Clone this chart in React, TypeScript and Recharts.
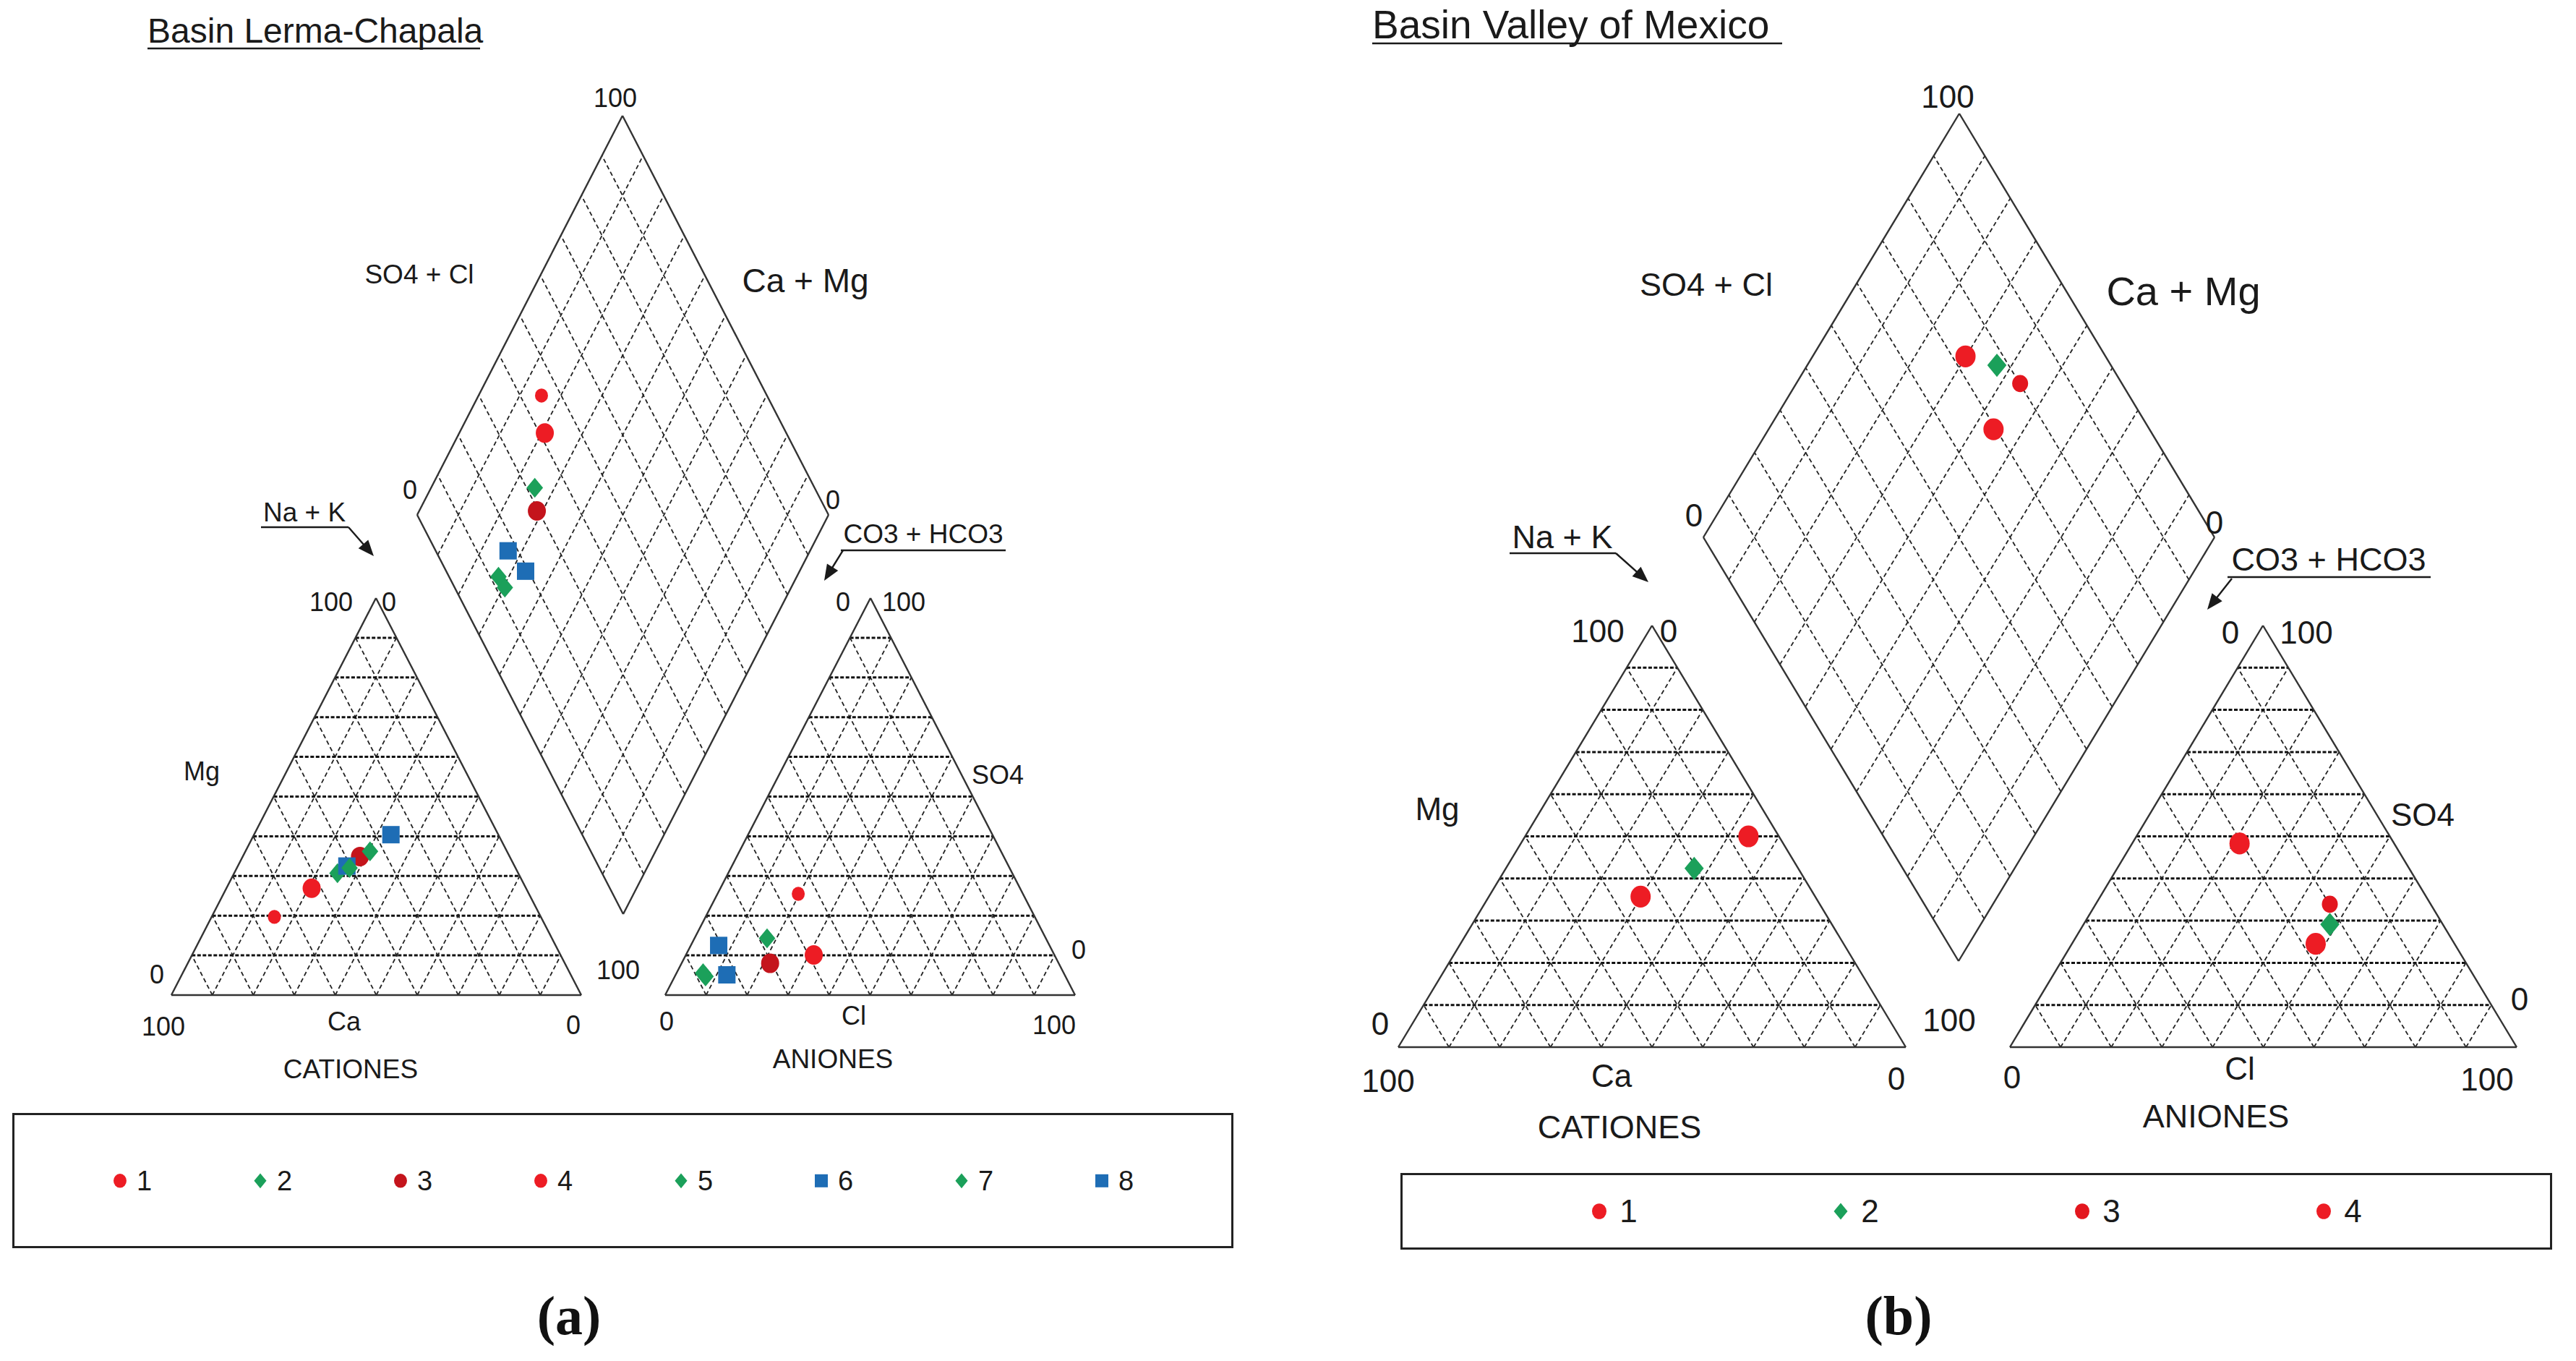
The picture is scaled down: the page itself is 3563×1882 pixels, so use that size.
import React from 'react';
import { ScatterChart, Scatter, XAxis, YAxis, ReferenceLine, ReferenceDot } from 'recharts';

type Pt = { x: number; y: number };

// (a) Basin Lerma-Chapala, % meq
const samplesA = ['1', '2', '3', '4', '5', '6', '7', '8'];
const mgA = [19.7, 30.7, 34.9, 26.9, 36.2, 32.5, 32.0, 40.4];
const nakA = [15.3, 25.2, 28.6, 20.8, 30.4, 26.6, 27.5, 33.4];
const so4A = [25.5, 14.3, 8.0, 10.1, 4.7, 5.1, 5.5, 12.5];
const clA = [19.7, 17.7, 21.6, 31.2, 7.5, 12.5, 6.5, 6.8];

// (b) Basin Valley of Mexico, % meq
const samplesB = ['1', '2', '3', '4'];
const mgB = [35.7, 42.4, 50.1, 50.0];
const nakB = [29.9, 37.1, 43.8, 44.0];
const so4B = [24.5, 29.1, 33.9, 48.3];
const clB = [48.1, 48.6, 46.2, 21.2];

const scaleTicks = ['0', '100'];

const FONT = '"Liberation Sans", Arial, sans-serif';
const INK = '#1a1a1a';
const RED = '#ED1C24';
const DARK_RED = '#C4141C';
const GREEN = '#1BA05A';
const BLUE = '#1E6DB5';

type Mark = { kind: 'circle' | 'diamond' | 'square'; color: string; r: number };

const marksA: Mark[] = [
  { kind: 'circle', color: RED, r: 9 },
  { kind: 'diamond', color: GREEN, r: 12 },
  { kind: 'circle', color: DARK_RED, r: 12.5 },
  { kind: 'circle', color: RED, r: 12.5 },
  { kind: 'diamond', color: GREEN, r: 12 },
  { kind: 'square', color: BLUE, r: 12 },
  { kind: 'diamond', color: GREEN, r: 12 },
  { kind: 'square', color: BLUE, r: 12 },
];
const marksB: Mark[] = [
  { kind: 'circle', color: RED, r: 14 },
  { kind: 'diamond', color: GREEN, r: 14 },
  { kind: 'circle', color: '#E3161E', r: 11 },
  { kind: 'circle', color: RED, r: 14 },
];

interface Tri { l: Pt; r: Pt; t: Pt }
interface Dia { l: Pt; r: Pt; b: Pt }

const mix = (tri: Tri, wl: number, wr: number, wt: number): Pt => ({
  x: wl * tri.l.x + wr * tri.r.x + wt * tri.t.x,
  y: wl * tri.l.y + wr * tri.r.y + wt * tri.t.y,
});
const diaPt = (d: Dia, u: number, v: number): Pt => ({
  x: d.b.x + u * (d.r.x - d.b.x) + v * (d.l.x - d.b.x),
  y: d.b.y + u * (d.r.y - d.b.y) + v * (d.l.y - d.b.y),
});

const THIN = { stroke: '#222', strokeWidth: 1.8, strokeDasharray: '6 4' };
const BOLD = { stroke: '#111', strokeWidth: 3, strokeDasharray: '5 2.5' };
const EDGE = { stroke: '#333', strokeWidth: 2.4 };

const seg = (key: string, a: Pt, b: Pt, st: any) => (
  <ReferenceLine key={key} segment={[a, b]} ifOverflow="visible" {...st} />
);

function triGrid(tri: Tri, id: string) {
  const out: React.ReactNode[] = [];
  for (let i = 1; i < 10; i++) {
    const f = i / 10;
    out.push(seg(`${id}h${i}`, mix(tri, 1 - f, 0, f), mix(tri, 0, 1 - f, f), BOLD));
    out.push(seg(`${id}a${i}`, mix(tri, f, 1 - f, 0), mix(tri, f, 0, 1 - f), THIN));
    out.push(seg(`${id}b${i}`, mix(tri, 1 - f, f, 0), mix(tri, 0, f, 1 - f), THIN));
  }
  out.push(seg(`${id}e1`, tri.l, tri.r, EDGE));
  out.push(seg(`${id}e2`, tri.r, tri.t, EDGE));
  out.push(seg(`${id}e3`, tri.t, tri.l, EDGE));
  return out;
}

function diaGrid(d: Dia, id: string) {
  const out: React.ReactNode[] = [];
  for (let i = 1; i < 10; i++) {
    const f = i / 10;
    out.push(seg(`${id}u${i}`, diaPt(d, f, 0), diaPt(d, f, 1), THIN));
    out.push(seg(`${id}v${i}`, diaPt(d, 0, f), diaPt(d, 1, f), THIN));
  }
  const t = diaPt(d, 1, 1);
  out.push(seg(`${id}e1`, d.b, d.l, EDGE));
  out.push(seg(`${id}e2`, d.l, t, EDGE));
  out.push(seg(`${id}e3`, t, d.r, EDGE));
  out.push(seg(`${id}e4`, d.r, d.b, EDGE));
  return out;
}

const drawMark = (m: Mark, cx: number, cy: number) => {
  const r = m.r;
  if (m.kind === 'circle') return <ellipse cx={cx} cy={cy} rx={r} ry={r * 1.08} fill={m.color} />;
  if (m.kind === 'diamond')
    return (
      <polygon
        points={`${cx},${cy - r * 1.15} ${cx + r * 0.95},${cy} ${cx},${cy + r * 1.15} ${cx - r * 0.95},${cy}`}
        fill={m.color}
      />
    );
  return <rect x={cx - r} y={cy - r} width={2 * r} height={2 * r} fill={m.color} />;
};

type Txt = [string, number, number, number];

const textDot = (key: string, x: number, y: number, s: string, size: number, anchor = 'middle', base = 'central') => (
  <ReferenceDot
    key={key}
    x={x}
    y={y}
    r={1}
    ifOverflow="visible"
    shape={(p: any) => (
      <text x={p.cx} y={p.cy} textAnchor={anchor} dominantBaseline={base} fontSize={size} fontFamily={FONT} fill={INK}>
        {s}
      </text>
    )}
  />
);

const arrow = (key: string, a: Pt, b: Pt) => {
  const ang = Math.atan2(b.y - a.y, b.x - a.x);
  const L = 22;
  const W = 9;
  return [
    seg(key + 's', a, { x: b.x - Math.cos(ang) * 10, y: b.y - Math.sin(ang) * 10 }, { stroke: INK, strokeWidth: 2.4 }),
    <ReferenceDot
      key={key + 'h'}
      x={b.x}
      y={b.y}
      r={1}
      ifOverflow="visible"
      shape={(p: any) => {
        const bx = p.cx - Math.cos(ang) * L;
        const by = p.cy - Math.sin(ang) * L;
        const nx = -Math.sin(ang) * W;
        const ny = Math.cos(ang) * W;
        return <polygon points={`${p.cx},${p.cy} ${bx + nx},${by + ny} ${bx - nx},${by - ny}`} fill={INK} />;
      }}
    />,
  ];
};

interface PanelCfg {
  id: string;
  left: number;
  width: number;
  height: number;
  cat: Tri;
  an: Tri;
  dia: Dia;
  names: string[];
  mg: number[];
  nak: number[];
  so4: number[];
  cl: number[];
  marks: Mark[];
  texts: Txt[];
  title: { s: string; x: number; y: number; size: number; ux: number; uy: number };
  unders: [number, number, number][];
  arrows: [Pt, Pt][];
}

function Panel({ c }: { c: PanelCfg }) {
  const series = c.names.map((n, i) => {
    const ca = 100 - c.mg[i] - c.nak[i];
    const hco3 = 100 - c.so4[i] - c.cl[i];
    return [
      mix(c.cat, ca / 100, c.nak[i] / 100, c.mg[i] / 100),
      mix(c.an, hco3 / 100, c.cl[i] / 100, c.so4[i] / 100),
      diaPt(c.dia, (c.so4[i] + c.cl[i]) / 100, (100 - c.nak[i]) / 100),
    ];
  });
  return (
    <div style={{ position: 'absolute', left: c.left, top: 0 }}>
      <ScatterChart width={c.width} height={c.height} margin={{ top: 0, right: 0, bottom: 0, left: 0 }}>
        <XAxis type="number" dataKey="x" domain={[c.left, c.left + c.width]} allowDataOverflow hide />
        <YAxis type="number" dataKey="y" domain={[0, c.height]} allowDataOverflow reversed hide />
        {triGrid(c.cat, c.id + 'c')}
        {triGrid(c.an, c.id + 'a')}
        {diaGrid(c.dia, c.id + 'd')}
        {c.texts.map((t, i) => textDot(`${c.id}t${i}`, t[1], t[2], t[0], t[3]))}
        {textDot(c.id + 'title', c.title.x, c.title.y, c.title.s, c.title.size, 'start', 'alphabetic')}
        {seg(c.id + 'tu', { x: c.title.x, y: c.title.uy }, { x: c.title.ux, y: c.title.uy }, { stroke: INK, strokeWidth: 2.4 })}
        {c.unders.map((u, i) => seg(`${c.id}ul${i}`, { x: u[0], y: u[2] }, { x: u[1], y: u[2] }, { stroke: INK, strokeWidth: 2.4 }))}
        {c.arrows.map((a, i) => arrow(`${c.id}ar${i}`, a[0], a[1]))}
        {series.map((pts, i) => (
          <Scatter
            key={c.names[i]}
            name={c.names[i]}
            data={pts}
            isAnimationActive={false}
            shape={(p: any) => drawMark(c.marks[i], p.cx, p.cy)}
          />
        ))}
      </ScatterChart>
    </div>
  );
}

const T0 = scaleTicks[0];
const T1 = scaleTicks[1];

const panelA: PanelCfg = {
  id: 'A',
  left: 0,
  width: 1780,
  height: 1540,
  cat: { l: { x: 237, y: 1376 }, r: { x: 804, y: 1376 }, t: { x: 520, y: 827 } },
  an: { l: { x: 920, y: 1376 }, r: { x: 1487, y: 1376 }, t: { x: 1204, y: 827 } },
  dia: { l: { x: 577, y: 712 }, r: { x: 1146, y: 712 }, b: { x: 862, y: 1264 } },
  names: samplesA,
  mg: mgA,
  nak: nakA,
  so4: so4A,
  cl: clA,
  marks: marksA,
  texts: [
    [T1, 851, 135, 36],
    ['SO4 + Cl', 580, 379, 37],
    ['Ca + Mg', 1114, 388, 46],
    [T0, 567, 677, 36],
    [T0, 1152, 691, 36],
    ['Na + K', 421, 708, 37],
    ['CO3 + HCO3', 1277, 738, 37],
    [T1, 458, 832, 36],
    [T0, 538, 832, 36],
    ['Mg', 279, 1066, 36],
    [T0, 217, 1347, 36],
    [T1, 226, 1419, 36],
    ['Ca', 476, 1412, 36],
    [T0, 793, 1417, 36],
    ['CATIONES', 485, 1478, 37],
    [T1, 855, 1341, 36],
    [T0, 1166, 832, 36],
    [T1, 1250, 832, 36],
    ['SO4', 1380, 1071, 36],
    [T0, 1492, 1313, 36],
    [T0, 922, 1412, 36],
    ['Cl', 1181, 1404, 36],
    [T1, 1458, 1417, 36],
    ['ANIONES', 1152, 1464, 37],
  ],
  title: { s: 'Basin Lerma-Chapala', x: 204, y: 59, size: 48, ux: 664, uy: 67 },
  unders: [
    [361, 482, 729],
    [1163, 1391, 761],
  ],
  arrows: [
    [{ x: 482, y: 729 }, { x: 517, y: 769 }],
    [{ x: 1166, y: 761 }, { x: 1140, y: 803 }],
  ],
};

const panelB: PanelCfg = {
  id: 'B',
  left: 1780,
  width: 1783,
  height: 1600,
  cat: { l: { x: 1934, y: 1448 }, r: { x: 2636, y: 1448 }, t: { x: 2285, y: 865 } },
  an: { l: { x: 2780, y: 1448 }, r: { x: 3481, y: 1448 }, t: { x: 3130, y: 865 } },
  dia: { l: { x: 2356, y: 743 }, r: { x: 3063, y: 743 }, b: { x: 2709, y: 1329 } },
  names: samplesB,
  mg: mgB,
  nak: nakB,
  so4: so4B,
  cl: clB,
  marks: marksB,
  texts: [
    [T1, 2694, 133, 44],
    ['SO4 + Cl', 2360, 393, 45],
    ['Ca + Mg', 3020, 402, 56],
    [T0, 2343, 712, 44],
    [T0, 3063, 722, 44],
    ['Na + K', 2161, 742, 45],
    ['CO3 + HCO3', 3221, 773, 45],
    [T1, 2210, 872, 44],
    [T0, 2308, 872, 44],
    ['Mg', 1988, 1118, 44],
    [T0, 1909, 1415, 44],
    [T1, 1920, 1494, 44],
    ['Ca', 2229, 1487, 44],
    [T0, 2623, 1491, 44],
    ['CATIONES', 2240, 1558, 45],
    [T1, 2696, 1410, 44],
    [T0, 3085, 874, 44],
    [T1, 3190, 874, 44],
    ['SO4', 3351, 1126, 44],
    [T0, 3485, 1381, 44],
    [T0, 2783, 1489, 44],
    ['Cl', 3098, 1477, 44],
    [T1, 3440, 1492, 44],
    ['ANIONES', 3065, 1543, 45],
  ],
  title: { s: 'Basin Valley of Mexico', x: 1898, y: 53, size: 55, ux: 2465, uy: 60 },
  unders: [
    [2088, 2235, 765],
    [3081, 3362, 798],
  ],
  arrows: [
    [{ x: 2235, y: 765 }, { x: 2280, y: 805 }],
    [{ x: 3087, y: 800 }, { x: 3053, y: 843 }],
  ],
};

function LegendBox(props: {
  x: number; y: number; w: number; h: number; names: string[]; marks: Mark[]; itemW: number; fontSize: number; r: number; gap: number;
}) {
  const { x, y, w, h, names, marks, itemW, fontSize, r, gap } = props;
  return (
    <div
      style={{
        position: 'absolute', left: x, top: y, width: w, height: h, border: '3px solid #222', boxSizing: 'border-box',
        display: 'flex', justifyContent: 'center', alignItems: 'center', background: '#fff',
      }}
    >
      {names.map((n, i) => (
        <div key={n} style={{ width: itemW, display: 'flex', justifyContent: 'center', alignItems: 'center' }}>
          <svg width={2 * r + 4} height={2 * r * 1.2 + 4} style={{ display: 'block' }}>
            {drawMark({ ...marks[i], r }, r + 2, r * 1.2 + 2)}
          </svg>
          <span style={{ marginLeft: gap, fontFamily: FONT, fontSize, color: INK, lineHeight: 1 }}>{n}</span>
        </div>
      ))}
    </div>
  );
}

const capStyle: React.CSSProperties = {
  position: 'absolute', top: 1774, fontFamily: '"Liberation Serif", "Times New Roman", serif', fontWeight: 'bold',
  fontSize: 76, color: '#111', transform: 'translateX(-50%)', lineHeight: '90px',
};

export default function App() {
  return (
    <div style={{ position: 'absolute', left: 0, top: 0, width: 3563, height: 1882, background: '#fff', overflow: 'hidden' }}>
      <Panel c={panelA} />
      <Panel c={panelB} />
      <LegendBox x={17} y={1539} w={1689} h={187} names={samplesA} marks={marksA} itemW={194} fontSize={38} r={9} gap={12} />
      <LegendBox x={1937} y={1622} w={1593} h={106} names={samplesB} marks={marksB} itemW={334} fontSize={44} r={10} gap={16} />
      <div style={{ ...capStyle, left: 787 }}>(a)</div>
      <div style={{ ...capStyle, left: 2626 }}>(b)</div>
    </div>
  );
}
